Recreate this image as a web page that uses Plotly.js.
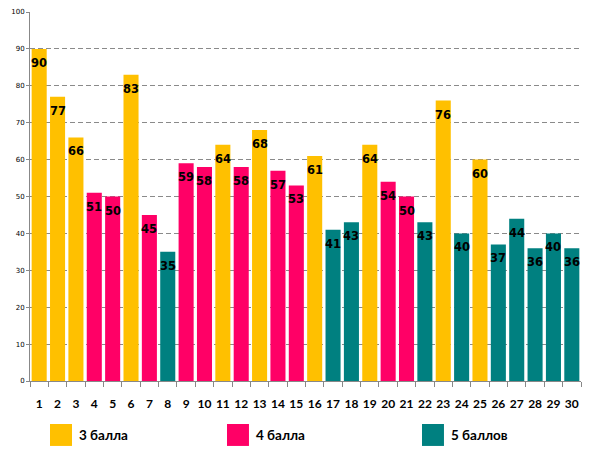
<!DOCTYPE html>
<html>
<head>
<meta charset="utf-8">
<script src="https://cdn.plot.ly/plotly-3.0.1.min.js"></script>
<style>
  html, body { margin: 0; padding: 0; background: #fff; }
  #chart { width: 591px; height: 460px; }
</style>
</head>
<body>
<div id="chart"></div>
<script>
// task numbers and percentage values
const tasks = ["1","2","3","4","5","6","7","8","9","10","11","12","13","14","15",
               "16","17","18","19","20","21","22","23","24","25","26","27","28","29","30"]
const values = [90, 77, 66, 51, 50, 83, 45, 35, 59, 58, 64, 58, 68, 57, 53,
                61, 41, 43, 64, 54, 50, 43, 76, 40, 60, 37, 44, 36, 40, 36]
// which grade group each task belongs to: 3, 4 or 5
const grades = [3, 3, 3, 4, 4, 3, 4, 5, 4, 4, 3, 4, 3, 4, 4,
                3, 5, 5, 3, 4, 4, 5, 3, 5, 3, 5, 5, 5, 5, 5]

const groupNames = {3: "3 балла", 4: "4 балла", 5: "5 баллов"}
const groupColors = {3: "#FFC000", 4: "#FF0066", 5: "#008080"}
const yTicks = [0, 10, 20, 30, 40, 50, 60, 70, 80, 90, 100]

const font = "DejaVu Sans, Verdana, sans-serif"
const labelFont = "Lato, Liberation Sans, sans-serif"

const traces = [3, 4, 5].map((g) => {
    const idx = grades.map((v, i) => v === g ? i : -1).filter((i) => i >= 0)
    return {
        type: "bar",
        x: idx.map((i) => tasks[i]),
        y: idx.map((i) => values[i]),
        name: groupNames[g],
        marker: {color: groupColors[g]},
        showlegend: false,
        hoverinfo: "x+y"
    }
})

// value labels sit a little below the top of each bar
// (x is the category index, a numeric-looking string would be read as an index anyway)
const annotations = values.map((v, i) => ({
    x: i,
    y: v,
    xref: "x",
    yref: "y",
    text: String(v),
    showarrow: false,
    yanchor: "middle",
    yshift: -14,
    font: {family: font, size: 11.5, color: "#000", weight: "bold"}
}))

// hand made legend: big squares with bold captions below the axis
const legendX = [0.0363, 0.3575, 0.7114]
const shapes = []
;[3, 4, 5].forEach((g, k) => {
    shapes.push({
        type: "rect",
        xref: "paper",
        yref: "paper",
        x0: legendX[k],
        x1: legendX[k] + 0.0399,
        y0: -0.176,
        y1: -0.1165,
        fillcolor: groupColors[g],
        line: {width: 0}
    })
    annotations.push({
        xref: "paper",
        yref: "paper",
        x: legendX[k] + 0.054,
        y: -0.146,
        xanchor: "left",
        yanchor: "middle",
        xshift: -3,
        text: groupNames[g],
        showarrow: false,
        font: {family: labelFont, size: 13.5, color: "#000", weight: "bold"}
    })
})

const layout = {
    width: 591,
    height: 460,
    margin: {l: 30, r: 10, t: 12, b: 79},
    paper_bgcolor: "#fff",
    plot_bgcolor: "#fff",
    barmode: "overlay",
    bargap: 0.18,
    showlegend: false,
    xaxis: {
        type: "category",
        categoryorder: "array",
        categoryarray: tasks,
        range: [-0.5, tasks.length - 0.5],
        showgrid: false,
        showline: true,
        linecolor: "#888",
        linewidth: 1,
        ticks: "outside",
        tickson: "boundaries",
        ticklen: 5,
        tickcolor: "#888",
        tickangle: 0,
        ticklabelstandoff: 12,
        tickfont: {family: labelFont, size: 12, color: "#000", weight: "bold"}
    },
    yaxis: {
        range: [0, 100],
        tickvals: yTicks,
        showgrid: true,
        gridcolor: "#8a8a8a",
        griddash: "5px,3px",
        gridwidth: 1,
        showline: true,
        linecolor: "#888",
        linewidth: 1,
        ticks: "outside",
        ticklen: 3,
        tickcolor: "#888",
        zeroline: false,
        tickfont: {family: font, size: 7, color: "#000"}
    },
    shapes: shapes,
    annotations: annotations
}

Plotly.newPlot("chart", traces, layout, {displayModeBar: false, staticPlot: true})
</script>
</body>
</html>
